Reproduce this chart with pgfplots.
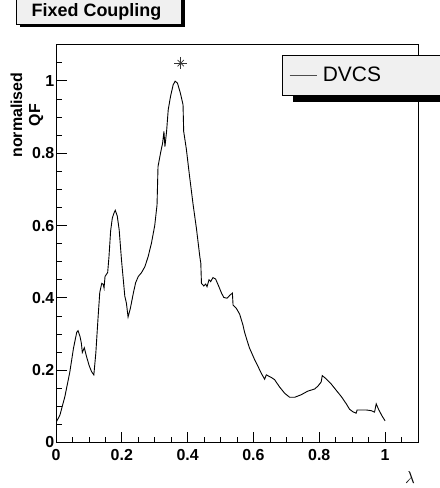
\documentclass[border=0pt]{standalone}
\usepackage{fontspec}
\setmainfont{Liberation Sans}
\usepackage{pgfplots}
\pgfplotsset{compat=1.18}
\definecolor{boxgray}{HTML}{F0F0F0}
\begin{document}
\begin{tikzpicture}
\path[use as bounding box] (0,0) rectangle (440bp,488bp);
% title box
\fill[black] (20bp,460.5bp) rectangle (185bp,495bp);
\filldraw[fill=boxgray, draw=black, line width=0.8bp] (16bp,464bp) rectangle (181bp,495bp);
\node[anchor=base, font=\bfseries\fontsize{18}{18}\selectfont, inner sep=0pt] at (96.5bp,471.3bp) {Fixed Coupling};
% legend shadow
\fill[black] (293bp,385.7bp) rectangle (480bp,425bp);
\begin{axis}[
  scale only axis, width=362bp, height=397.8bp,
  at={(56bp,45.5bp)}, anchor=south west,
  xmin=0, xmax=1.1, ymin=0, ymax=1.1,
  axis line style={line width=1bp},
  tick align=inside, xtick pos=bottom, ytick pos=left,
  xtick={0,0.2,0.4,0.6,0.8,1}, ytick={0,0.2,0.4,0.6,0.8,1},
  minor xtick={0.05,0.1,0.15,0.25,0.3,0.35,0.45,0.5,0.55,0.65,0.7,0.75,0.85,0.9,0.95,1.05},
  minor ytick={0.05,0.1,0.15,0.25,0.3,0.35,0.45,0.5,0.55,0.65,0.7,0.75,0.85,0.9,0.95,1.05},
  major tick length=11bp, minor tick length=5.7bp,
  tick style={line width=0.8bp, black},
  /pgf/number format/assume math mode=true,
  ticklabel style={font=\bfseries\fontsize{16}{16}\selectfont},
  xticklabel style={inner sep=0pt, yshift=-6.5bp},
  yticklabel style={inner sep=0pt, xshift=-1.5bp},
  ylabel={normalised\\QF},
  ylabel style={at={(rel axis cs:-0.0801,0.823)}, anchor=center,
    font=\bfseries\fontsize{16}{18}\selectfont, align=center},
  xlabel={$\lambda$},
  xlabel style={at={(rel axis cs:0.978,-0.0892)}, anchor=center, font=\fontsize{16}{16}\selectfont},
  legend style={at={(0.624,0.975)}, anchor=north west, fill=boxgray, draw=black, line width=0.8bp,
    font=\fontsize{21}{21}\selectfont, inner xsep=7bp, inner ysep=12bp, nodes={inner sep=0pt}},
  legend image code/.code={\draw[line width=0.6bp, black!70] (0bp,0bp) -- (27bp,0bp);},
]
\addplot[black, line width=0.9bp] coordinates {
(0.000,0.055) (0.012,0.076) (0.027,0.127) (0.042,0.195) (0.053,0.260) (0.063,0.305)
(0.067,0.309) (0.073,0.293) (0.077,0.275) (0.080,0.249) (0.086,0.262) (0.093,0.237)
(0.101,0.212) (0.108,0.196) (0.115,0.187) (0.121,0.247) (0.128,0.348) (0.133,0.415)
(0.139,0.440) (0.143,0.438) (0.146,0.427) (0.149,0.459) (0.157,0.470) (0.161,0.514)
(0.166,0.585) (0.171,0.620) (0.176,0.634) (0.180,0.642) (0.186,0.627) (0.192,0.588)
(0.199,0.505) (0.205,0.445) (0.209,0.405) (0.214,0.385) (0.219,0.347) (0.226,0.371)
(0.235,0.413) (0.242,0.442) (0.250,0.459) (0.260,0.470) (0.270,0.486) (0.280,0.514)
(0.290,0.551) (0.300,0.600) (0.307,0.657) (0.310,0.763) (0.318,0.802) (0.324,0.828)
(0.328,0.860) (0.331,0.818) (0.336,0.860) (0.341,0.920) (0.348,0.957) (0.356,0.989)
(0.362,0.999) (0.369,0.994) (0.378,0.966) (0.386,0.934) (0.388,0.860) (0.396,0.812)
(0.406,0.735) (0.416,0.662) (0.427,0.590) (0.437,0.514) (0.440,0.496) (0.442,0.440)
(0.449,0.433) (0.455,0.438) (0.459,0.431) (0.465,0.450) (0.470,0.445) (0.477,0.456)
(0.485,0.452) (0.495,0.431) (0.503,0.413) (0.510,0.401) (0.520,0.399) (0.528,0.407)
(0.536,0.413) (0.538,0.380) (0.548,0.371) (0.558,0.355) (0.568,0.325) (0.573,0.305)
(0.580,0.284) (0.588,0.261) (0.593,0.251) (0.604,0.228) (0.614,0.210) (0.624,0.191)
(0.634,0.175) (0.639,0.187) (0.654,0.180) (0.664,0.174) (0.679,0.154) (0.695,0.136)
(0.710,0.125) (0.725,0.125) (0.745,0.132) (0.765,0.142) (0.786,0.148) (0.796,0.156)
(0.803,0.164) (0.806,0.168) (0.809,0.185) (0.821,0.176) (0.836,0.162) (0.851,0.145)
(0.867,0.127) (0.882,0.107) (0.892,0.092) (0.902,0.085) (0.912,0.081) (0.915,0.090)
(0.927,0.090) (0.942,0.090) (0.958,0.088) (0.968,0.084) (0.973,0.107) (0.981,0.090)
(0.991,0.073) (1.000,0.060)
};
\addlegendentry{\hspace*{6bp}DVCS\hspace*{70bp}}
\addplot[forget plot, only marks, mark=+, mark size=6.3bp, mark options={line width=0.6bp, black!80}] coordinates {(0.379,1.049)};
\addplot[forget plot, only marks, mark=x, mark size=4.5bp, mark options={line width=0.6bp, black!80}] coordinates {(0.379,1.049)};
\end{axis}
\end{tikzpicture}
\end{document}
